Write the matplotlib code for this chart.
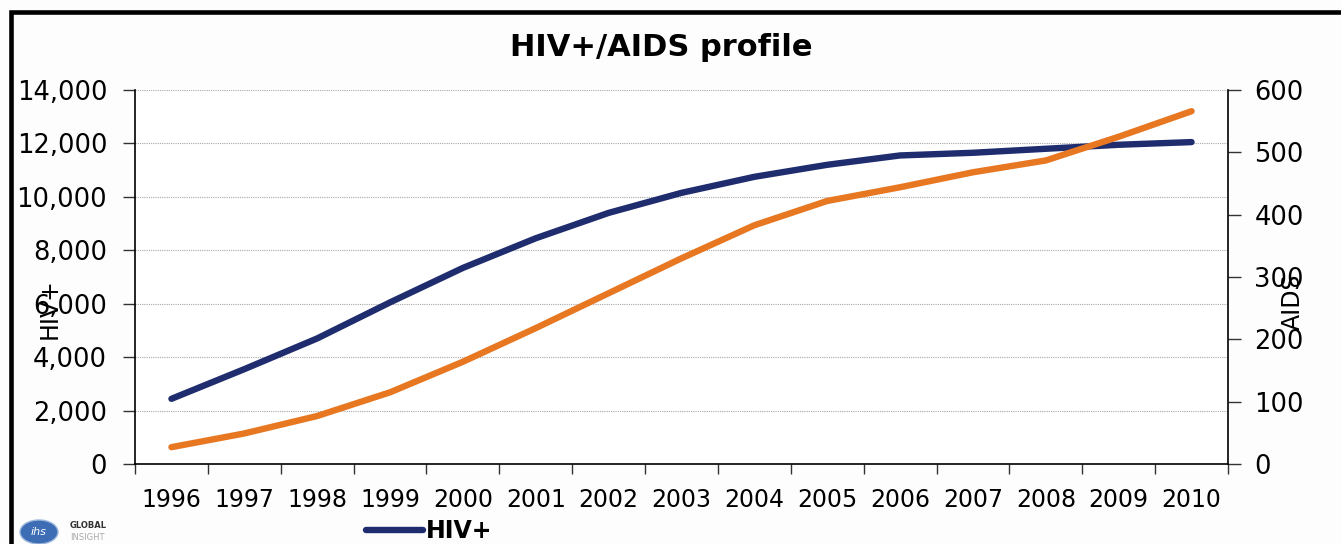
import numpy as np
import matplotlib
matplotlib.use("Agg")
import matplotlib.pyplot as plt
from matplotlib.patches import Rectangle, Ellipse
from matplotlib.lines import Line2D

# Annual counts
years = ["1996", "1997", "1998", "1999", "2000", "2001", "2002", "2003",
         "2004", "2005", "2006", "2007", "2008", "2009", "2010"]
hiv_plus = [2440, 3550, 4700, 6050, 7340, 8450, 9400, 10150,
            10750, 11200, 11550, 11650, 11800, 11950, 12050]
aids = [27, 49, 77, 115, 164, 218, 274, 330,
        383, 422, 444, 468, 487, 525, 566]

left_ticks = [0, 2000, 4000, 6000, 8000, 10000, 12000, 14000]
right_ticks = [0, 100, 200, 300, 400, 500, 600]

NAVY = "#1f2d6e"
ORANGE = "#e87722"
W, H = 1341, 544

plt.rcParams["font.family"] = "DejaVu Sans"

fig = plt.figure(figsize=(W / 100, H / 100), dpi=100)
fig.patch.set_facecolor("#fdfdfd")

ax = fig.add_axes([135 / W, 1 - 464 / H, (1228 - 135) / W, (464 - 90) / H])
ax.set_facecolor("white")
x = np.arange(len(years))

ax.plot(x, hiv_plus, color=NAVY, lw=4.6, solid_capstyle="round", zorder=3)
ax.set_xlim(-0.5, len(years) - 0.5)
ax.set_ylim(0, 14000)
ax.set_yticks(left_ticks)
ax.set_yticklabels([f"{v:,}" for v in left_ticks])
ax.yaxis.grid(True, linestyle=(0, (1, 1)), color="#a8a8a8", lw=0.8)
ax.set_axisbelow(True)

# category boundaries carry tick marks, labels sit at category centres
ax.set_xticks(np.arange(-0.5, len(years), 1.0))
ax.set_xticklabels([])
ax.set_xticks(x, minor=True)
ax.set_xticklabels(years, minor=True)
ax.tick_params(axis="x", which="major", direction="out", length=7, width=1, color="#333333")
ax.tick_params(axis="x", which="minor", length=0, pad=17, labelsize=17)
ax.tick_params(axis="y", direction="out", length=9, width=1, color="#333333",
               pad=11, labelsize=18.5)

for side in ("top", "right"):
    ax.spines[side].set_visible(False)
for side in ("left", "bottom"):
    ax.spines[side].set_color("black")
    ax.spines[side].set_linewidth(1.2)

ax2 = ax.twinx()
ax2.plot(x, aids, color=ORANGE, lw=4.6, solid_capstyle="round", zorder=3)
ax2.set_ylim(0, 600)
ax2.set_yticks(right_ticks)
ax2.tick_params(axis="y", direction="out", length=9, width=1, color="#333333",
                pad=10, labelsize=18.5)
for side in ("top", "left", "bottom"):
    ax2.spines[side].set_visible(False)
ax2.spines["right"].set_color("black")
ax2.spines["right"].set_linewidth(1.2)

fig.text(661 / W, 1 - 47 / H, "HIV+/AIDS profile", ha="center", va="center",
         fontsize=22, fontweight="bold")
fig.text(50 / W, 1 - 309 / H, "HIV+", rotation=90, ha="center", va="center", fontsize=17)
fig.text(1293 / W, 1 - 302 / H, "AIDS", rotation=90, ha="center", va="center", fontsize=17)

# legend
handle = Line2D([], [], color=NAVY, lw=4.6, solid_capstyle="round")
fig.legend(handles=[handle], labels=["HIV+"], loc="center left",
           bbox_to_anchor=(366 / W, 1 - 531 / H), frameon=False,
           prop={"weight": "bold", "size": 17}, handlelength=2.4,
           handletextpad=0.15, borderpad=0, borderaxespad=0)

# logo
fig.add_artist(Ellipse((39 / W, 1 - 532 / H), 38 / W, 24 / H, transform=fig.transFigure,
                       facecolor="#3d6db5", edgecolor="#9fb8dc", lw=1))
fig.text(39 / W, 1 - 532 / H, "ihs", ha="center", va="center", fontsize=8,
         color="white", style="italic")
fig.text(70 / W, 1 - 526 / H, "GLOBAL", ha="left", va="center", fontsize=6,
         fontweight="bold", color="#333333")
fig.text(70 / W, 1 - 537 / H, "INSIGHT", ha="left", va="center", fontsize=6,
         color="#aaaaaa")

# outer frame
fig.add_artist(Rectangle((10.5 / W, -0.2), 1.2, 1.2 - 12 / H, transform=fig.transFigure,
                         fill=False, edgecolor="black", lw=3.3))

fig.savefig("out.png", dpi=100)
